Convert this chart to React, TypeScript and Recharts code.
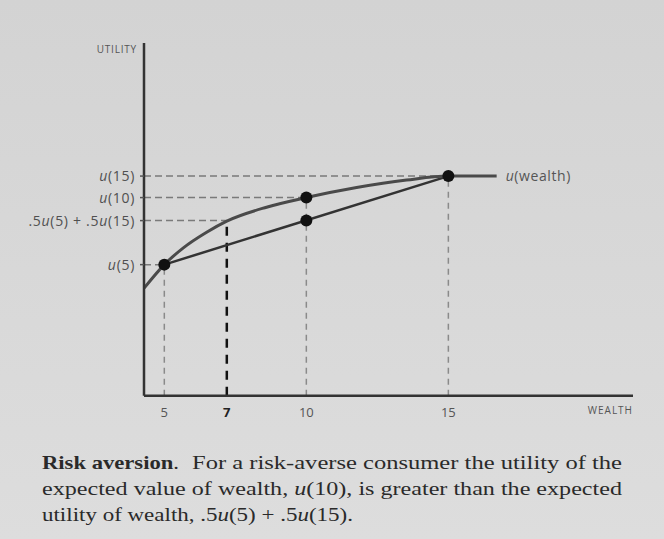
import React from "react";
import {
  ComposedChart,
  Line,
  XAxis,
  YAxis,
  ReferenceLine,
  ReferenceDot,
  LabelList,
} from "recharts";

// ---- data ----
const curveWealth = [4.29, 5, 5.67, 6.49, 7.2, 8.6, 10, 11.77, 13.53, 15, 16.7];
const curveUtility = [10.75, 13.1, 14.78, 16.34, 17.45, 18.84, 19.8, 20.8, 21.55, 21.95, 21.95];

const u5 = 13.1;
const u10 = 19.8;
const u15 = 21.95;
const expectedUtility = 17.5; // .5u(5) + .5u(15)
const certaintyEquivalent = 7.2;

const xTickValues = [5, certaintyEquivalent, 10, 15];
const xTickLabels = ["5", "7", "10", "15"];
const yTickValues = [u5, expectedUtility, u10, u15];
const yTickLabels = ["u(5)", ".5u(5) + .5u(15)", "u(10)", "u(15)"];

const xDomain = [4.285, 21.5];
const yDomain = [0, 35.25];

const curveData = curveWealth.map((w, i) => ({ w, u: curveUtility[i] }));

const captionLines = [
  "For a risk-averse consumer the utility of the",
  "expected value of wealth, u(10), is greater than the expected",
  "utility of wealth, .5u(5) + .5u(15).",
];

const AXIS_FONT = "'Open Sans', Lato, sans-serif";
const SERIF = "'Liberation Serif', 'DejaVu Serif', serif";

function mathSpans(s: string) {
  const parts = s.split(/(u(?=\())/);
  return parts.map((p, i) =>
    p === "u" ? (
      <tspan key={i} fontStyle="italic">
        u
      </tspan>
    ) : (
      <tspan key={i}>{p}</tspan>
    )
  );
}

const YTick = (props: any) => {
  const { x, y, payload } = props;
  const idx = yTickValues.indexOf(payload.value);
  const label = idx >= 0 ? yTickLabels[idx] : "";
  return (
    <text
      x={x - 3}
      y={y + 5}
      textAnchor="end"
      fontFamily={AXIS_FONT}
      fontSize={14}
      letterSpacing={0.7}
      fill="#505050"
    >
      {mathSpans(label)}
    </text>
  );
};

const XTick = (props: any) => {
  const { x, y, payload } = props;
  const idx = xTickValues.indexOf(payload.value);
  const label = idx >= 0 ? xTickLabels[idx] : "";
  const isCE = payload.value === certaintyEquivalent;
  return (
    <text
      x={x}
      y={y + 19}
      textAnchor="middle"
      fontFamily={AXIS_FONT}
      fontSize={13}
      fill={isCE ? "#222" : "#555"}
      fontWeight={isCE ? 700 : 400}
    >
      {label}
    </text>
  );
};

const grayDash = { stroke: "#7a7a7a", strokeWidth: 1.5, strokeDasharray: "7 4" };
const grayVDash = { stroke: "#8a8a8a", strokeWidth: 1.5, strokeDasharray: "6 5" };

export default function App() {
  return (
    <div
      style={{
        position: "absolute",
        left: 0,
        top: 0,
        width: 664,
        height: 539,
        background: "linear-gradient(#d3d3d3, #dddddd)",
        overflow: "hidden",
      }}
    >
      <ComposedChart
        width={664}
        height={539}
        data={curveData}
        margin={{ top: 43, right: 31, bottom: 0, left: 0 }}
      >
        <XAxis
          type="number"
          dataKey="w"
          domain={xDomain}
          allowDataOverflow
          ticks={xTickValues}
          interval={0}
          tick={<XTick />}
          tickLine={false}
          tickSize={0}
          height={143.3}
          axisLine={{ stroke: "#333", strokeWidth: 2.5 }}
          label={{
            content: (p: any) => (
              <text
                x={p.viewBox.x + p.viewBox.width}
                y={p.viewBox.y + 18}
                textAnchor="end"
                fontFamily={AXIS_FONT}
                fontSize={10}
                letterSpacing={1}
                fill="#555"
              >
                WEALTH
              </text>
            ),
          }}
        />
        <YAxis
          type="number"
          domain={yDomain}
          allowDataOverflow
          ticks={yTickValues}
          interval={0}
          tick={<YTick />}
          tickSize={4}
          tickLine={{ stroke: "#555", strokeWidth: 1.5 }}
          width={144}
          axisLine={{ stroke: "#333", strokeWidth: 2.5 }}
          label={{
            content: (p: any) => (
              <text
                x={p.viewBox.x + p.viewBox.width - 7}
                y={p.viewBox.y + 10}
                textAnchor="end"
                fontFamily={AXIS_FONT}
                fontSize={10}
                letterSpacing={0.8}
                fill="#555"
              >
                UTILITY
              </text>
            ),
          }}
        />

        {/* horizontal dashed guides */}
        <ReferenceLine segment={[{ x: xDomain[0], y: u15 }, { x: 15, y: u15 }]} {...grayDash} />
        <ReferenceLine segment={[{ x: xDomain[0], y: u10 }, { x: 10, y: u10 }]} {...grayDash} />
        <ReferenceLine
          segment={[{ x: xDomain[0], y: expectedUtility }, { x: certaintyEquivalent, y: expectedUtility }]}
          {...grayDash}
        />
        <ReferenceLine segment={[{ x: xDomain[0], y: u5 }, { x: 5, y: u5 }]} {...grayDash} />

        {/* vertical dashed guides */}
        <ReferenceLine segment={[{ x: 5, y: 0 }, { x: 5, y: u5 }]} {...grayVDash} />
        <ReferenceLine segment={[{ x: 10, y: 0 }, { x: 10, y: u10 }]} {...grayVDash} />
        <ReferenceLine segment={[{ x: 15, y: 0 }, { x: 15, y: u15 }]} {...grayVDash} />
        <ReferenceLine
          segment={[{ x: certaintyEquivalent, y: 0 }, { x: certaintyEquivalent, y: expectedUtility }]}
          stroke="#111"
          strokeWidth={2.5}
          strokeDasharray="9 7"
        />

        {/* chord between u(5) and u(15) */}
        <ReferenceLine
          segment={[{ x: 5, y: u5 }, { x: 15, y: u15 }]}
          stroke="#333"
          strokeWidth={2.5}
        />

        <Line
          type="monotone"
          dataKey="u"
          stroke="#4a4a4a"
          strokeWidth={3}
          dot={false}
          activeDot={false}
          isAnimationActive={false}
        >
          <LabelList
            dataKey="u"
            content={(p: any) =>
              p.index === curveData.length - 1 ? (
                <text
                  x={p.x + 9}
                  y={p.y + 5}
                  fontFamily={AXIS_FONT}
                  fontSize={14}
                  letterSpacing={0.6}
                  fill="#555"
                >
                  {mathSpans("u(wealth)")}
                </text>
              ) : null
            }
          />
        </Line>

        <ReferenceDot x={5} y={u5} r={6} fill="#111" stroke="none" />
        <ReferenceDot x={10} y={u10} r={6} fill="#111" stroke="none" />
        <ReferenceDot x={10} y={expectedUtility} r={6} fill="#111" stroke="none" />
        <ReferenceDot x={15} y={u15} r={6} fill="#111" stroke="none" />
      </ComposedChart>

      <svg
        width={664}
        height={539}
        style={{ position: "absolute", left: 0, top: 0, pointerEvents: "none" }}
      >
        <text
          x={42}
          y={469}
          fontFamily={SERIF}
          fontSize={19.5}
          fill="#2a2a2a"
          textLength={137}
          lengthAdjust="spacingAndGlyphs"
        >
          <tspan fontWeight={700}>Risk aversion</tspan>
          <tspan>.</tspan>
        </text>
        <text
          x={192}
          y={469}
          fontFamily={SERIF}
          fontSize={19.5}
          fill="#2a2a2a"
          textLength={430}
          lengthAdjust="spacingAndGlyphs"
        >
          {mathSpans(captionLines[0])}
        </text>
        <text
          x={42}
          y={495}
          fontFamily={SERIF}
          fontSize={19.5}
          fill="#2a2a2a"
          textLength={580}
          lengthAdjust="spacingAndGlyphs"
        >
          {mathSpans(captionLines[1])}
        </text>
        <text
          x={42}
          y={521}
          fontFamily={SERIF}
          fontSize={19.5}
          fill="#2a2a2a"
          textLength={311}
          lengthAdjust="spacingAndGlyphs"
        >
          {mathSpans(captionLines[2])}
        </text>
      </svg>
    </div>
  );
}
